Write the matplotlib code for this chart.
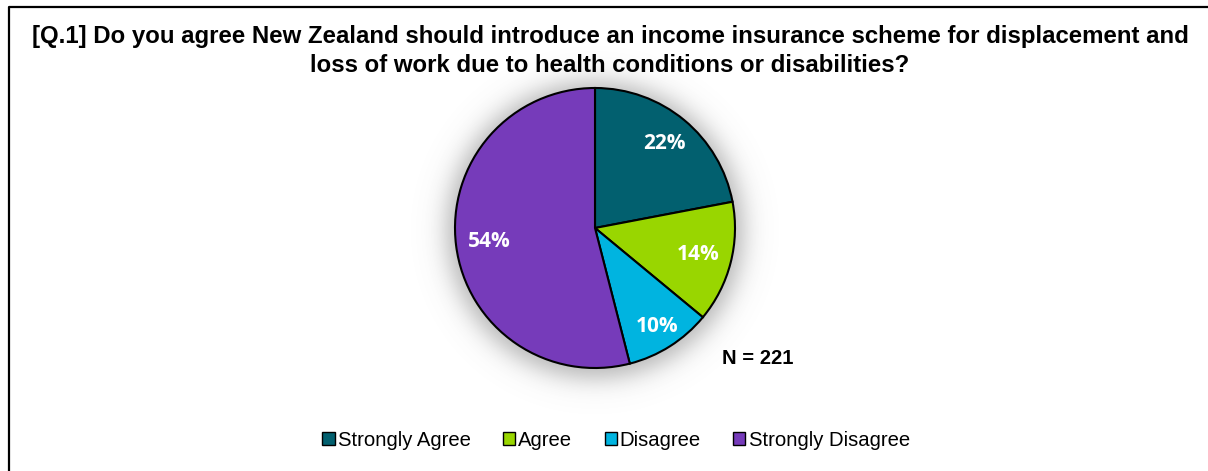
import numpy as np
import matplotlib
matplotlib.use("Agg")
import matplotlib.pyplot as plt
from matplotlib.patches import Patch
from matplotlib.lines import Line2D

# Survey responses
categories = ["Strongly Agree", "Agree", "Disagree", "Strongly Disagree"]
shares = [22, 14, 10, 54]
colors = ["#02606F", "#99D600", "#00B4E0", "#763BBA"]
title_lines = ["[Q.1] Do you agree New Zealand should introduce an income insurance scheme for displacement and",
               "loss of work due to health conditions or disabilities?"]
sample_note = "N = 221"

W, H = 1208, 471
fig = plt.figure(figsize=(W / 100, H / 100), dpi=100)
fig.patch.set_facecolor("white")

# Axes in pixel units (y measured upward)
ax = fig.add_axes([0, 0, 1, 1])
ax.set_xlim(0, W)
ax.set_ylim(0, H)
ax.set_aspect("equal")
ax.axis("off")

cx, cy, r = 595, H - 228, 140

# Soft shadow behind the pie
yy, xx = np.mgrid[0:H, 0:W]
d = np.hypot(xx + 0.5 - cx, (H - yy - 0.5) - (cy - 2))
alpha = 0.5 / (1 + np.exp((d - (r + 8)) / 7.5))
shadow = np.zeros((H, W, 4))
shadow[..., :3] = 0.42
shadow[..., 3] = alpha
ax.imshow(shadow, extent=(0, W, 0, H), origin="upper", zorder=0, interpolation="bilinear")

wedges, texts, autotexts = ax.pie(
    shares, colors=colors, startangle=90, counterclock=False,
    center=(cx, cy), radius=r, autopct="%d%%", pctdistance=0.77,
    wedgeprops=dict(edgecolor="black", linewidth=1.5),
    textprops=dict(color="white", fontsize=15, fontweight="bold", family="Open Sans"),
    frame=True,
)
ax.set_xlim(0, W)
ax.set_ylim(0, H)
ax.axis("off")
for w in wedges:
    w.set_zorder(2)

# Per-slice label distances (fraction of radius)
label_dist = [0.78, 0.76, 0.83, 0.76]
for w, t, k in zip(wedges, autotexts, label_dist):
    ang = np.deg2rad((w.theta1 + w.theta2) / 2)
    t.set_position((cx + k * r * np.cos(ang), cy + k * r * np.sin(ang)))
    t.set_zorder(3)

# Two-line title, each line placed on its own row
for line, ypx in zip(title_lines, [36, 65]):
    fig.text(610 / W, 1 - ypx / H, line, ha="center", va="center", fontsize=17.3,
             fontweight="bold", family="Liberation Sans")

fig.text(758 / W, 1 - 358 / H, sample_note, ha="center", va="center", fontsize=14.6,
         fontweight="bold", family="Liberation Sans")

handles = [Patch(facecolor=c, edgecolor="black", linewidth=1.0) for c in colors]
fig.legend(handles, categories, loc="center", bbox_to_anchor=(616 / W, 1 - 440 / H),
           ncol=4, frameon=False,
           prop=dict(family="Liberation Sans", size=14.6),
           handlelength=0.6, handleheight=0.6, handletextpad=0.15, columnspacing=1.6)

# Frame lines along the top and left
fig.add_artist(Line2D([9 / W, 9 / W, 1.0], [0.0, 1 - 7 / H, 1 - 7 / H],
                      transform=fig.transFigure, color="black", linewidth=1.6))

fig.savefig("out.png", dpi=100, facecolor="white")
